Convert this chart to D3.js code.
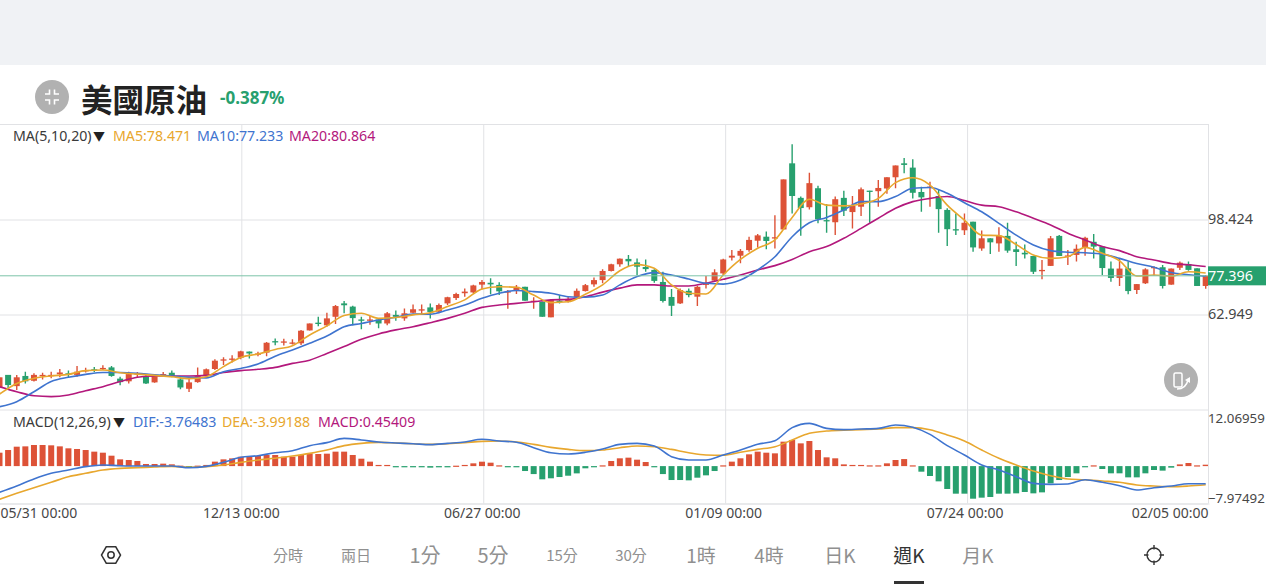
<!DOCTYPE html>
<html><head><meta charset="utf-8">
<script src="https://cdn.jsdelivr.net/npm/d3@7"></script>
<style>
html,body{margin:0;padding:0;background:#fff;overflow:hidden}
svg{display:block}
text{font-family:"Noto Sans","Noto Sans CJK TC",sans-serif}
.cjk{font-family:"Noto Sans CJK TC","Noto Sans",sans-serif}
</style></head><body>
<svg id="c" width="1266" height="584"></svg>
<script>
const open=[35.7,40.4,36.2,40.0,38.2,40.0,40.0,40.6,41.0,40.4,41.7,42.5,42.6,43.2,39.0,38.0,40.6,39.7,37.6,40.4,41.2,38.7,35.2,37.7,40.2,42.6,45.8,46.2,46.8,49.1,48.2,48.7,53.0,52.5,52.3,52.2,57.0,59.9,58.9,62.1,67.1,65.9,61.1,60.6,61.1,59.6,62.8,61.5,63.6,64.4,65.6,64.0,67.1,69.1,70.9,71.2,74.1,74.8,74.0,71.4,72.1,73.3,67.9,67.7,61.9,68.1,68.1,69.4,71.7,74.2,75.8,79.2,81.7,83.7,82.4,80.7,79.6,75.1,69.5,67.1,71.8,69.6,74.0,75.6,78.3,84.2,84.9,87.0,90.5,92.0,91.4,94.7,119.4,106.5,103.0,110.1,98.2,97.4,106.5,101.2,103.2,109.2,109.0,110.0,114.2,119.4,117.8,108.7,110.2,107.2,102.0,94.8,94.4,97.6,87.6,91.4,89.5,92.3,87.3,86.0,84.8,79.2,81.1,92.3,84.5,85.2,88.0,90.1,88.3,80.1,76.6,80.2,72.1,74.6,80.3,80.6,74.1,80.4,81.8,80.2,73.6];
const high=[39.5,40.4,40.4,41.6,41.0,41.2,41.6,42.6,42.0,43.7,43.1,43.3,44.0,43.7,39.7,41.6,41.5,40.5,40.7,41.5,42.0,39.5,38.9,43.2,42.8,46.2,47.0,47.7,49.4,49.1,49.0,52.7,54.0,53.9,53.7,57.2,59.6,62.1,63.6,66.5,68.0,66.2,62.1,62.4,61.5,63.9,64.4,65.2,66.7,66.7,67.1,67.1,69.6,71.1,72.7,74.1,75.8,76.5,75.0,72.1,74.0,73.3,69.4,67.7,68.6,70.2,69.6,72.7,74.3,76.8,79.8,81.9,83.9,85.2,83.9,83.5,79.8,78.9,72.5,72.7,72.7,73.7,77.3,79.8,83.8,87.0,87.4,92.0,93.0,93.9,100.0,113.4,126.5,107.0,115.9,111.0,104.2,107.0,109.2,107.2,110.4,109.2,113.2,114.2,118.6,121.4,120.9,110.7,112.5,109.4,102.6,100.7,100.7,97.6,94.3,91.4,95.5,97.2,90.1,89.1,84.8,83.3,92.3,92.6,87.0,89.1,92.0,93.0,88.3,82.7,83.9,82.7,74.3,80.2,81.0,81.4,80.1,82.7,82.7,80.2,77.7];
const low=[35.4,35.4,34.8,37.2,37.9,38.7,39.1,39.5,39.5,39.7,41.3,41.5,42.2,39.7,36.5,37.2,39.5,37.0,37.5,39.7,39.5,35.0,34.0,37.5,39.7,42.2,44.1,45.0,46.2,46.5,47.4,47.4,51.5,51.4,51.7,51.6,57.0,58.6,58.4,59.4,63.4,58.9,57.4,59.1,57.8,58.9,60.6,60.6,63.4,63.1,61.5,63.4,66.5,68.4,69.6,70.9,72.3,70.5,70.2,65.1,70.6,68.1,65.1,62.1,61.9,67.1,67.4,69.0,71.5,73.3,74.6,79.0,80.8,80.8,77.7,78.9,74.8,67.4,62.4,66.9,69.4,66.1,72.7,75.2,77.7,83.1,82.1,86.4,88.0,87.3,87.6,94.7,100.7,92.4,102.2,97.0,93.5,92.6,99.7,95.1,99.7,97.2,103.2,108.0,110.1,115.7,106.3,101.3,103.2,93.5,88.5,92.6,92.6,86.4,86.8,85.5,86.4,86.0,81.1,83.9,78.1,76.1,81.1,84.8,81.4,82.7,84.9,83.9,77.7,75.2,73.6,70.5,70.6,74.3,77.3,72.7,74.1,79.6,79.3,73.6,72.6];
const close=[39.5,36.6,39.5,38.0,40.4,40.4,40.4,41.3,40.6,41.6,42.2,42.2,43.0,40.0,37.7,40.7,41.0,37.2,40.0,40.7,40.0,35.7,37.6,40.0,42.5,45.7,46.2,46.5,49.2,48.4,48.4,52.4,52.7,52.9,52.5,56.9,59.6,59.4,61.5,66.1,66.4,61.6,60.6,61.1,59.6,63.4,62.1,63.4,64.9,64.9,63.9,66.5,69.4,70.6,71.5,73.8,75.1,74.2,71.6,71.6,73.3,68.1,68.1,62.1,68.4,67.9,68.4,71.8,73.9,75.8,79.2,81.7,83.8,82.8,80.8,79.9,75.5,68.0,66.2,72.1,70.2,73.3,74.8,78.7,83.5,84.9,86.7,90.8,92.5,90.4,91.8,113.4,107.2,102.7,112.0,98.5,97.9,106.0,101.7,103.5,109.7,108.8,110.2,114.2,118.6,118.8,108.4,106.7,110.7,102.3,94.8,94.5,97.2,88.0,91.4,89.9,92.4,86.8,86.3,85.4,78.9,79.6,91.4,84.8,85.0,87.5,91.6,88.3,80.3,76.6,80.1,71.7,74.3,79.8,80.7,73.6,80.1,82.3,79.6,73.6,77.4];

// moving averages, one reading per two weeks
const ma5=[33.2,37.2,39.1,40.0,40.6,42.0,42.2,41.2,40.7,40.2,39.7,39.0,39.7,43.5,46.9,48.2,49.9,51.3,55.3,58.7,62.6,63.4,61.5,61.8,62.8,63.6,65.9,68.4,72.5,73.3,73.1,70.2,67.4,67.7,70.5,74.0,79.3,81.6,80.2,74.0,70.9,70.6,77.7,83.5,87.7,90.8,99.2,106.0,103.8,103.5,104.2,106.3,112.2,114.0,111.3,103.8,98.2,92.6,92.4,89.1,85.2,83.9,84.5,88.0,85.8,83.0,77.3,77.7,77.3,78.9,78.47];
const ma10=[28.5,30.4,34.1,37.9,39.5,40.6,41.3,41.3,41.0,40.4,40.0,39.5,39.3,41.6,42.8,44.5,47.4,49.7,52.2,54.9,58.4,59.6,60.9,61.9,63.1,63.1,64.6,66.5,69.0,70.9,71.9,71.5,70.9,69.6,69.4,70.2,74.0,77.1,78.6,77.7,76.2,74.6,74.3,75.8,79.6,84.5,92.0,97.2,99.2,102.0,105.1,105.1,107.0,110.1,110.4,108.2,104.7,101.3,97.0,92.6,88.9,86.8,86.2,86.0,85.5,83.9,82.0,80.6,78.6,77.8,77.23];
const ma20=[36.0,34.1,32.6,32.3,32.9,34.5,36.0,37.9,39.5,40.0,40.0,40.0,40.2,41.3,42.0,42.5,43.2,44.7,45.9,48.4,51.0,53.7,55.7,57.2,58.4,59.9,61.5,63.4,65.6,66.5,67.1,67.7,68.4,68.6,69.6,71.3,72.8,74.0,74.0,73.6,73.6,74.6,76.1,77.7,79.6,81.2,83.5,86.4,88.3,91.4,95.1,98.9,102.6,105.1,106.3,107.0,105.5,103.8,103.2,101.3,98.9,96.4,93.3,90.8,88.3,86.8,84.5,83.3,82.0,81.5,80.86];

const dif=[-5.60,-4.25,-2.75,-1.54,-.83,-.12,.23,.09,.02,.02,.02,-.34,-.05,.80,1.87,2.22,2.86,3.29,4.36,5.0,5.92,5.57,5.14,4.93,4.78,4.57,4.85,5.14,5.71,5.35,5.07,3.93,2.86,2.58,2.94,3.65,4.64,4.85,4.29,2.01,1.3,1.3,2.37,3.43,4.64,5.42,8.2,9.12,8.05,7.77,7.91,8.05,8.76,8.27,6.77,4.36,2.37,.23,-.83,-2.25,-3.68,-3.9,-3.82,-2.9,-3.46,-4.17,-5.1,-4.6,-4.25,-3.75,-3.76];
const dea=[-7.09,-5.81,-4.6,-3.46,-2.25,-1.54,-.83,-.48,-.34,-.19,-.05,-.26,-.12,.23,.8,1.3,1.66,2.15,2.72,3.43,4.36,4.85,5.07,4.93,4.78,4.64,4.78,5.0,5.28,5.35,5.14,4.64,4.0,3.57,3.29,3.43,3.93,4.29,4.14,3.57,2.86,2.37,2.3,2.94,3.57,4.14,5.57,7.0,7.48,7.63,7.77,7.91,8.2,8.2,7.77,6.63,5.35,3.43,1.66,.23,-1.05,-2.04,-2.75,-2.9,-3.18,-3.46,-4.03,-4.25,-4.39,-4.25,-3.99];
const hist=[2.86,3.43,4.14,4.21,4.5,4.5,4.43,4.21,3.79,3.65,3.43,3.08,2.86,2.22,1.44,1.3,1.09,.45,.45,.52,.38,.1,-.05,.1,.25,.95,1.44,1.65,2.0,2.0,2.15,2.37,2.37,2.0,2.0,2.37,2.72,2.58,2.65,3.08,3.08,2.37,1.58,.95,.25,.25,-.19,-.19,-.19,-.19,-.33,-.26,-.26,.09,.25,.59,.94,.73,.16,-.19,-.19,-1.05,-1.7,-2.82,-2.6,-2.33,-2.05,-1.55,-.47,-.05,.16,1.09,1.66,1.8,1.37,.87,-.2,-1.7,-2.97,-2.97,-3.04,-2.47,-1.97,-1.05,.16,.95,1.66,2.51,3.08,2.86,2.72,5.21,5.57,4.85,5.35,3.43,1.87,1.66,.37,.25,.25,.16,.16,.59,1.3,1.5,.16,-1.19,-2.11,-3.25,-4.88,-5.88,-5.88,-6.95,-6.73,-6.59,-5.88,-5.88,-5.81,-5.52,-5.81,-5.6,-3.68,-2.97,-2.33,-1.54,-.26,.16,-.62,-1.54,-1.54,-2.4,-2.4,-1.54,-.83,-.97,-.33,.37,.66,.16,.3];

const dateTicks=[0,28,56,84,112,140];
const dateLabels=["05/31 00:00","12/13 00:00","06/27 00:00","01/09 00:00","07/24 00:00","02/05 00:00"];
const priceTicks=[98.424,62.949];
const macdTicks=[12.06959,-7.97492];
const lastPrice=77.396;
const periods=[["分時",15],["兩日",15],["1分",20],["5分",20],["15分",15],["30分",15],["1時",19],["4時",19],["日K",19],["週K",19],["月K",19]];

const RED="#dd5237",GREEN="#27a06e",ORANGE="#e8a72e",BLUE="#3f74cf",PURPLE="#b3187c",GRID="#e1e2e5",TXT="#474747";
const W=1208,TOP=124,MID=409.5,BOT=503.5;
const svg=d3.select("#c");
svg.append("rect").attr("width",1266).attr("height",65).attr("fill","#f0f2f5");

const x=d3.scaleLinear().domain([0,140]).range([-0.5,1205.7]);
const xDate=d3.scaleLinear().domain([0,140]).range([-0.6,1209]);
const y=d3.scaleLinear().domain([62.949,98.424]).range([314.5,219.5]);
const yM=d3.scaleLinear().domain([macdTicks[1],macdTicks[0]]).range([BOT,MID]);
const lineIdx=d3.range(0,141,2);

const defs=svg.append("defs");
defs.append("clipPath").attr("id","cm").append("rect").attr("x",0).attr("y",TOP).attr("width",W).attr("height",MID-TOP);
defs.append("clipPath").attr("id","cd").append("rect").attr("x",0).attr("y",MID).attr("width",W).attr("height",BOT-MID);

// frame
svg.append("line").attr("x1",0).attr("x2",W).attr("y1",TOP+.5).attr("y2",TOP+.5).attr("stroke",GRID);
svg.append("line").attr("x1",W+.5).attr("x2",W+.5).attr("y1",TOP).attr("y2",BOT).attr("stroke",GRID);

// date axis + vertical grid
const ax=svg.append("g").attr("transform",`translate(0,${BOT})`)
 .call(d3.axisBottom(xDate).tickValues(dateTicks).tickSizeInner(-(BOT-TOP)).tickSizeOuter(0).tickPadding(3).tickFormat((d,i)=>dateLabels[i]));
ax.select(".domain").attr("stroke",GRID);
ax.selectAll("line").attr("stroke",GRID);
const dateNudge=[0.6,-0.5,-1.5,-2,-2.5,-1];
ax.selectAll("text").attr("font-size",14).attr("fill",TXT).style("font-family",'"Noto Sans",sans-serif')
 .attr("text-anchor",(d,i)=>i===0?"start":i===5?"end":"middle")
 .attr("x",(d,i)=>dateNudge[i]).attr("y",14.5).attr("dy",0);
ax.selectAll(".tick").filter(d=>d===0||d===140).select("line").remove();

// price axis
const ay=svg.append("g").attr("transform",`translate(${W},0)`)
 .call(d3.axisRight(y).tickValues(priceTicks).tickSizeInner(-W).tickSizeOuter(0).tickPadding(0).tickFormat(d3.format(".3f")));
ay.select(".domain").remove();
ay.selectAll("line").attr("stroke",GRID);
ay.selectAll("text").attr("font-size",14.4).attr("fill",TXT).attr("y",-0.7);

// macd axis
const am=svg.append("g").attr("transform",`translate(${W},0)`)
 .call(d3.axisRight(yM).tickValues(macdTicks).tickSizeInner(-W).tickSizeOuter(0).tickPadding(0).tickFormat(d3.format(".5f")));
am.select(".domain").remove();
am.selectAll("line").attr("stroke",GRID);
am.selectAll("text").attr("font-size",13.3).attr("fill",TXT).attr("y",(d,i)=>i===0?8.5:-5);

// candles
const main=svg.append("g").attr("clip-path","url(#cm)");
const colr=i=>close[i]>=open[i]?RED:GREEN;
const cg=main.append("g").selectAll("g").data(d3.range(open.length)).join("g");
cg.append("line").attr("x1",i=>x(i)).attr("x2",i=>x(i)).attr("y1",i=>y(high[i])).attr("y2",i=>y(low[i])).attr("stroke",colr).attr("stroke-width",1.4);
cg.append("rect").attr("x",i=>x(i)-3).attr("width",6)
  .attr("y",i=>y(Math.max(open[i],close[i])))
  .attr("height",i=>Math.max(1.3,Math.abs(y(open[i])-y(close[i]))))
  .attr("fill",colr);

const curve=d3.curveMonotoneX;
function drawLine(parent,vals,sc,color){
  const gen=d3.line().x((d,k)=>x(lineIdx[k])).y(d=>sc(d)).curve(curve);
  parent.append("path").attr("d",gen(vals)).attr("fill","none").attr("stroke",color).attr("stroke-width",1.6);
}
drawLine(main,ma20,y,PURPLE);
drawLine(main,ma10,y,BLUE);
drawLine(main,ma5,y,ORANGE);

// last price
svg.append("line").attr("x1",0).attr("x2",W).attr("y1",y(lastPrice)).attr("y2",y(lastPrice)).attr("stroke","#7cc4a8").attr("stroke-width",1);
svg.append("rect").attr("x",W).attr("y",y(lastPrice)-9.5).attr("width",58).attr("height",19).attr("fill",GREEN);
svg.append("text").attr("x",W).attr("y",y(lastPrice)+5.2).attr("font-size",14.4).attr("fill","#fff").text(d3.format(".3f")(lastPrice));

// macd pane
const sub=svg.append("g").attr("clip-path","url(#cd)");
sub.append("g").selectAll("rect").data(hist).join("rect")
  .attr("x",(d,i)=>x(i)-3).attr("width",6)
  .attr("y",d=>d>=0?yM(d):yM(0))
  .attr("height",d=>Math.max(1.2,Math.abs(yM(d)-yM(0))))
  .attr("fill",d=>d>=0?RED:GREEN);
drawLine(sub,dea,yM,ORANGE);
drawLine(sub,dif,yM,BLUE);

// legends
function leg(items,yy){items.forEach(([t,tx,c,fs])=>svg.append("text").attr("x",tx).attr("y",yy).attr("font-size",fs||14.2).attr("fill",c).text(t));}
leg([["MA(5,10,20)",13,"#3a3a3a"],["▼",93,"#222",12],["MA5:78.471",113,ORANGE],["MA10:77.233",197,BLUE],["MA20:80.864",289,PURPLE]],141);
leg([["MACD(12,26,9)",13,"#3a3a3a"],["▼",113,"#222",12],["DIF:-3.76483",133,BLUE],["DEA:-3.99188",222,ORANGE],["MACD:0.45409",318,PURPLE]],426.5);

// header
svg.append("circle").attr("cx",52).attr("cy",97).attr("r",17).attr("fill","#b1b1b1");
svg.append("path").attr("d","M45 94h4.5v-4.5M59 94h-4.5v-4.5M45 100h4.5v4.5M59 100h-4.5v4.5").attr("fill","none").attr("stroke","#fff").attr("stroke-width",1.6);
svg.append("text").attr("class","cjk").attr("x",81).attr("y",111.5).attr("font-size",31.5).attr("font-weight",700).attr("fill","#222").text("美國原油");
svg.append("text").attr("x",220).attr("y",104).attr("font-size",17).attr("font-weight",700).attr("fill",GREEN).text("-0.387%");

// rotate button
svg.append("circle").attr("cx",1181).attr("cy",380).attr("r",17).attr("fill","#b1b1b1");
svg.append("rect").attr("x",1174).attr("y",373).attr("width",8).attr("height",14).attr("rx",1.5).attr("fill","none").attr("stroke","#fff").attr("stroke-width",1.5);
svg.append("path").attr("d","M1177 389q9 0 11-9").attr("fill","none").attr("stroke","#fff").attr("stroke-width",1.5);
svg.append("path").attr("d","M1185 380l5-3l0 6z").attr("fill","#fff");

// toolbar
const tabX=[288,356,425,493,562,631,701,769,840,909,978];
svg.append("g").selectAll("text").data(periods).join("text").attr("class","cjk")
  .attr("x",(d,i)=>tabX[i]).attr("y",d=>556+d[1]*0.36).attr("text-anchor","middle")
  .attr("font-size",d=>d[1]).attr("fill",d=>d[0]==="週K"?"#333":"#909090").text(d=>d[0]);
svg.append("rect").attr("x",894).attr("y",581).attr("width",30).attr("height",3).attr("fill","#333");
// hexagon and crosshair icons
const hex=d3.range(6).map(k=>[111+9.5*Math.cos(k*Math.PI/3),555+9.5*Math.sin(k*Math.PI/3)]);
svg.append("polygon").attr("points",hex.join(" ")).attr("fill","none").attr("stroke","#333").attr("stroke-width",1.5);
svg.append("circle").attr("cx",111).attr("cy",555).attr("r",3.2).attr("fill","none").attr("stroke","#333").attr("stroke-width",1.5);
svg.append("circle").attr("cx",1154).attr("cy",555).attr("r",7).attr("fill","none").attr("stroke","#333").attr("stroke-width",1.4);
svg.append("path").attr("d","M1154 545v4.5M1154 560.5v4.5M1144 555h4.5M1159.5 555h4.5").attr("stroke","#333").attr("stroke-width",1.4);
</script>
</body></html>
